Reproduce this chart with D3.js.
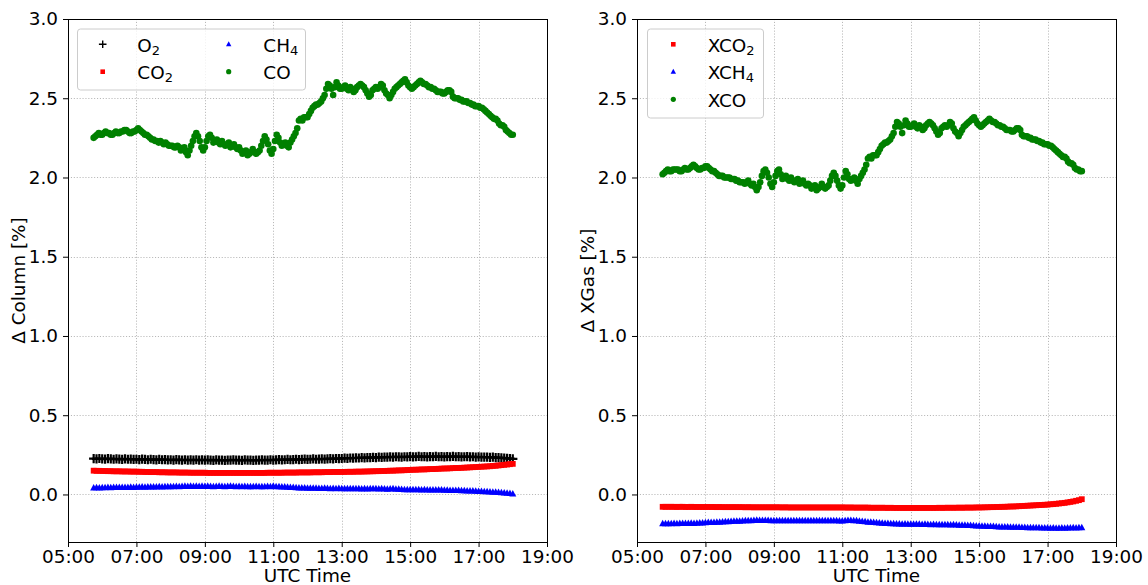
<!DOCTYPE html>
<html>
<head>
<meta charset="utf-8">
<script src="https://cdn.jsdelivr.net/npm/d3@7"></script>
<style>
  body { margin: 0; background: #fff; }
  svg { display: block; }
  text { font-family: "DejaVu Sans", sans-serif; fill: #000; }
</style>
</head>
<body>
<svg id="chart" width="1148" height="585"></svg>
<script>
// Sample times (UTC) for the column/XGas ratios, one row per hour
const times = [
  "05:45","05:50","05:55",
  "06:00","06:05","06:10","06:15","06:20","06:25","06:30","06:35","06:40","06:45","06:50","06:55",
  "07:00","07:05","07:10","07:15","07:20","07:25","07:30","07:35","07:40","07:45","07:50","07:55",
  "08:00","08:05","08:10","08:15","08:20","08:25","08:30","08:35","08:40","08:45","08:50","08:55",
  "09:00","09:05","09:10","09:15","09:20","09:25","09:30","09:35","09:40","09:45","09:50","09:55",
  "10:00","10:05","10:10","10:15","10:20","10:25","10:30","10:35","10:40","10:45","10:50","10:55",
  "11:00","11:05","11:10","11:15","11:20","11:25","11:30","11:35","11:40","11:45","11:50","11:55",
  "12:00","12:05","12:10","12:15","12:20","12:25","12:30","12:35","12:40","12:45","12:50","12:55",
  "13:00","13:05","13:10","13:15","13:20","13:25","13:30","13:35","13:40","13:45","13:50","13:55",
  "14:00","14:05","14:10","14:15","14:20","14:25","14:30","14:35","14:40","14:45","14:50","14:55",
  "15:00","15:05","15:10","15:15","15:20","15:25","15:30","15:35","15:40","15:45","15:50","15:55",
  "16:00","16:05","16:10","16:15","16:20","16:25","16:30","16:35","16:40","16:45","16:50","16:55",
  "17:00","17:05","17:10","17:15","17:20","17:25","17:30","17:35","17:40","17:45","17:50","17:55",
  "18:00"
];

// Sample times (UTC) for CO / XCO, one row per hour
const coTimes = [
  "05:45","05:48","05:51","05:54","05:57",
  "06:00","06:03","06:06","06:09","06:12","06:15","06:18","06:21","06:24","06:27","06:30","06:33","06:36","06:39","06:42","06:45","06:48","06:51","06:54","06:57",
  "07:00","07:03","07:06","07:09","07:12","07:15","07:18","07:21","07:24","07:27","07:30","07:33","07:36","07:39","07:42","07:45","07:48","07:51","07:54","07:57",
  "08:00","08:03","08:06","08:09","08:12","08:15","08:18","08:21","08:24","08:27","08:30","08:33","08:36","08:39","08:42","08:45","08:48","08:51","08:54","08:57",
  "09:00","09:03","09:06","09:09","09:12","09:15","09:18","09:21","09:24","09:27","09:30","09:33","09:36","09:39","09:42","09:45","09:48","09:51","09:54","09:57",
  "10:00","10:03","10:06","10:09","10:12","10:15","10:18","10:21","10:24","10:27","10:30","10:33","10:36","10:39","10:42","10:45","10:48","10:51","10:54","10:57",
  "11:00","11:03","11:06","11:09","11:12","11:15","11:18","11:21","11:24","11:27","11:30","11:33","11:36","11:39","11:42","11:45","11:48","11:51","11:54","11:57",
  "12:00","12:03","12:06","12:09","12:12","12:15","12:18","12:21","12:24","12:27","12:30","12:33","12:36","12:39","12:42","12:45","12:48","12:51","12:54","12:57",
  "13:00","13:03","13:06","13:09","13:12","13:15","13:18","13:21","13:24","13:27","13:30","13:33","13:36","13:39","13:42","13:45","13:48","13:51","13:54","13:57",
  "14:00","14:03","14:06","14:09","14:12","14:15","14:18","14:21","14:24","14:27","14:30","14:33","14:36","14:39","14:42","14:45","14:48","14:51","14:54","14:57",
  "15:00","15:03","15:06","15:09","15:12","15:15","15:18","15:21","15:24","15:27","15:30","15:33","15:36","15:39","15:42","15:45","15:48","15:51","15:54","15:57",
  "16:00","16:03","16:06","16:09","16:12","16:15","16:18","16:21","16:24","16:27","16:30","16:33","16:36","16:39","16:42","16:45","16:48","16:51","16:54","16:57",
  "17:00","17:03","17:06","17:09","17:12","17:15","17:18","17:21","17:24","17:27","17:30","17:33","17:36","17:39","17:42","17:45","17:48","17:51","17:54","17:57",
  "18:00"
];

// Δ column [%]
const o2 = [
  0.226,0.224,0.227,
  0.225,0.223,0.226,0.224,0.222,0.225,0.223,0.221,0.224,0.222,0.223,0.221,
  0.222,0.220,0.223,0.221,0.219,0.222,0.220,0.218,0.221,0.219,0.220,0.218,
  0.219,0.217,0.220,0.218,0.216,0.219,0.217,0.218,0.216,0.219,0.217,0.218,
  0.216,0.218,0.217,0.215,0.218,0.216,0.217,0.215,0.217,0.216,0.218,0.216,
  0.217,0.215,0.218,0.216,0.217,0.215,0.217,0.216,0.218,0.216,0.217,0.219,
  0.217,0.218,0.220,0.218,0.219,0.221,0.219,0.220,0.222,0.220,0.221,0.223,
  0.221,0.222,0.224,0.222,0.223,0.225,0.223,0.224,0.226,0.225,0.227,0.226,
  0.227,0.229,0.228,0.230,0.229,0.231,0.230,0.232,0.231,0.233,0.232,0.234,
  0.233,0.235,0.234,0.236,0.235,0.237,0.236,0.238,0.237,0.236,0.238,0.237,
  0.239,0.237,0.238,0.240,0.238,0.239,0.237,0.239,0.238,0.240,0.238,0.239,
  0.237,0.239,0.238,0.240,0.238,0.239,0.237,0.238,0.239,0.237,0.238,0.236,
  0.237,0.236,0.235,0.236,0.234,0.235,0.233,0.232,0.231,0.229,0.228,0.226,
  0.225
];
const co2 = [
  0.150,0.149,0.149,
  0.148,0.148,0.147,0.147,0.146,0.146,0.146,0.145,0.145,0.145,0.144,0.144,
  0.144,0.143,0.143,0.142,0.142,0.141,0.141,0.141,0.140,0.140,0.140,0.139,
  0.139,0.139,0.139,0.138,0.138,0.138,0.138,0.137,0.137,0.137,0.137,0.137,
  0.137,0.136,0.136,0.136,0.136,0.136,0.136,0.136,0.136,0.136,0.136,0.136,
  0.136,0.136,0.136,0.136,0.136,0.136,0.136,0.136,0.136,0.136,0.137,0.137,
  0.137,0.137,0.137,0.137,0.138,0.138,0.138,0.138,0.138,0.139,0.139,0.139,
  0.139,0.139,0.140,0.140,0.140,0.140,0.141,0.141,0.141,0.142,0.142,0.142,
  0.142,0.142,0.143,0.143,0.143,0.144,0.144,0.144,0.145,0.145,0.146,0.146,
  0.147,0.147,0.148,0.148,0.149,0.150,0.150,0.151,0.152,0.152,0.153,0.154,
  0.155,0.156,0.156,0.157,0.158,0.158,0.159,0.160,0.160,0.161,0.162,0.163,
  0.164,0.164,0.165,0.166,0.167,0.167,0.168,0.169,0.170,0.171,0.172,0.173,
  0.174,0.175,0.176,0.177,0.178,0.180,0.181,0.183,0.185,0.187,0.189,0.191,
  0.193
];
const ch4 = [
  0.042,0.043,0.042,
  0.043,0.043,0.044,0.043,0.044,0.044,0.045,0.044,0.045,0.045,0.046,0.045,
  0.046,0.046,0.047,0.046,0.047,0.048,0.047,0.048,0.049,0.048,0.049,0.050,
  0.049,0.050,0.051,0.050,0.051,0.052,0.051,0.052,0.051,0.052,0.051,0.052,
  0.051,0.052,0.051,0.050,0.051,0.052,0.051,0.050,0.051,0.052,0.051,0.050,
  0.051,0.050,0.051,0.050,0.049,0.050,0.051,0.050,0.049,0.050,0.051,0.050,
  0.052,0.050,0.049,0.048,0.047,0.046,0.045,0.044,0.043,0.042,0.041,0.041,
  0.040,0.040,0.039,0.039,0.038,0.038,0.039,0.038,0.037,0.038,0.037,0.038,
  0.037,0.037,0.036,0.037,0.036,0.037,0.036,0.035,0.036,0.035,0.036,0.037,
  0.036,0.035,0.036,0.035,0.034,0.035,0.036,0.034,0.033,0.032,0.031,0.031,
  0.030,0.031,0.030,0.030,0.029,0.030,0.029,0.029,0.028,0.029,0.028,0.028,
  0.027,0.027,0.026,0.026,0.025,0.025,0.024,0.024,0.023,0.022,0.022,0.021,
  0.020,0.019,0.018,0.017,0.016,0.015,0.014,0.013,0.011,0.010,0.008,0.006,
  0.004
];
const co = [
  2.25,2.26,2.27,2.28,2.27,
  2.27,2.28,2.29,2.28,2.28,2.27,2.27,2.28,2.29,2.28,2.28,2.29,2.29,2.30,2.30,2.29,2.28,2.28,2.29,2.29,
  2.30,2.31,2.30,2.29,2.28,2.27,2.27,2.26,2.25,2.24,2.24,2.23,2.23,2.22,2.23,2.22,2.21,2.22,2.21,2.20,
  2.20,2.20,2.19,2.19,2.20,2.19,2.17,2.18,2.19,2.16,2.14,2.17,2.20,2.23,2.26,2.28,2.26,2.23,2.19,2.17,
  2.19,2.23,2.26,2.27,2.25,2.22,2.23,2.24,2.22,2.21,2.23,2.21,2.20,2.21,2.22,2.19,2.20,2.21,2.19,2.18,
  2.19,2.17,2.15,2.16,2.17,2.14,2.15,2.16,2.18,2.16,2.15,2.16,2.17,2.20,2.23,2.26,2.24,2.21,2.17,2.15,
  2.18,2.23,2.27,2.25,2.22,2.20,2.21,2.22,2.20,2.19,2.22,2.24,2.26,2.28,2.31,2.36,2.37,2.36,2.38,2.38,
  2.38,2.40,2.42,2.44,2.45,2.46,2.46,2.47,2.48,2.50,2.52,2.56,2.59,2.58,2.56,2.52,2.57,2.60,2.58,2.56,
  2.56,2.57,2.58,2.56,2.55,2.57,2.56,2.54,2.55,2.57,2.58,2.59,2.58,2.57,2.55,2.53,2.51,2.52,2.55,2.56,
  2.57,2.56,2.57,2.59,2.58,2.55,2.53,2.52,2.50,2.52,2.54,2.56,2.57,2.58,2.59,2.60,2.61,2.62,2.60,2.58,
  2.57,2.56,2.57,2.58,2.59,2.60,2.61,2.60,2.59,2.59,2.58,2.57,2.57,2.56,2.56,2.55,2.54,2.54,2.54,2.53,
  2.53,2.54,2.55,2.55,2.54,2.51,2.50,2.50,2.50,2.49,2.49,2.48,2.48,2.48,2.47,2.47,2.46,2.46,2.45,2.45,
  2.45,2.44,2.44,2.43,2.42,2.41,2.40,2.39,2.38,2.37,2.37,2.36,2.34,2.33,2.33,2.32,2.30,2.29,2.28,2.27,
  2.27
];

// Δ XGas [%]
const xco2 = [
  -0.078,-0.078,-0.078,
  -0.078,-0.078,-0.079,-0.078,-0.078,-0.079,-0.079,-0.078,-0.079,-0.079,-0.079,-0.079,
  -0.079,-0.079,-0.079,-0.079,-0.080,-0.079,-0.080,-0.080,-0.080,-0.080,-0.080,-0.080,
  -0.080,-0.080,-0.081,-0.080,-0.081,-0.081,-0.081,-0.081,-0.081,-0.081,-0.081,-0.081,
  -0.081,-0.081,-0.081,-0.082,-0.081,-0.082,-0.082,-0.082,-0.082,-0.082,-0.082,-0.082,
  -0.082,-0.082,-0.082,-0.082,-0.082,-0.082,-0.082,-0.082,-0.082,-0.082,-0.082,-0.082,
  -0.082,-0.082,-0.083,-0.082,-0.083,-0.083,-0.083,-0.083,-0.083,-0.083,-0.084,-0.084,
  -0.084,-0.084,-0.084,-0.084,-0.085,-0.084,-0.085,-0.085,-0.085,-0.085,-0.085,-0.085,
  -0.085,-0.085,-0.085,-0.085,-0.085,-0.085,-0.085,-0.085,-0.085,-0.085,-0.084,-0.085,
  -0.084,-0.084,-0.084,-0.084,-0.084,-0.083,-0.084,-0.083,-0.083,-0.083,-0.083,-0.082,
  -0.082,-0.082,-0.081,-0.081,-0.080,-0.080,-0.079,-0.079,-0.078,-0.078,-0.077,-0.076,
  -0.076,-0.075,-0.074,-0.073,-0.072,-0.071,-0.070,-0.069,-0.068,-0.067,-0.066,-0.065,
  -0.064,-0.062,-0.061,-0.059,-0.057,-0.055,-0.053,-0.050,-0.047,-0.044,-0.040,-0.036,
  -0.030
];
const xch4 = [
  -0.185,-0.184,-0.185,
  -0.184,-0.183,-0.184,-0.183,-0.182,-0.183,-0.182,-0.181,-0.182,-0.181,-0.180,-0.180,
  -0.178,-0.177,-0.176,-0.176,-0.175,-0.174,-0.173,-0.172,-0.171,-0.170,-0.169,-0.168,
  -0.168,-0.167,-0.166,-0.166,-0.165,-0.164,-0.162,-0.163,-0.164,-0.163,-0.164,-0.165,
  -0.165,-0.166,-0.165,-0.166,-0.165,-0.166,-0.166,-0.165,-0.166,-0.166,-0.165,-0.166,
  -0.166,-0.165,-0.166,-0.166,-0.165,-0.166,-0.165,-0.166,-0.166,-0.165,-0.166,-0.167,
  -0.167,-0.165,-0.163,-0.164,-0.165,-0.166,-0.168,-0.170,-0.172,-0.174,-0.175,-0.177,
  -0.178,-0.179,-0.181,-0.182,-0.183,-0.184,-0.185,-0.186,-0.186,-0.187,-0.186,-0.187,
  -0.187,-0.188,-0.187,-0.188,-0.189,-0.188,-0.189,-0.190,-0.189,-0.190,-0.190,-0.191,
  -0.190,-0.191,-0.192,-0.191,-0.192,-0.193,-0.193,-0.194,-0.195,-0.196,-0.197,-0.198,
  -0.199,-0.200,-0.200,-0.201,-0.202,-0.202,-0.203,-0.204,-0.204,-0.205,-0.205,-0.206,
  -0.206,-0.207,-0.207,-0.208,-0.208,-0.209,-0.209,-0.210,-0.210,-0.210,-0.211,-0.211,
  -0.211,-0.212,-0.211,-0.212,-0.212,-0.211,-0.212,-0.211,-0.211,-0.210,-0.211,-0.210,
  -0.210
];
const xco = [
  2.02,2.03,2.04,2.05,2.04,
  2.04,2.05,2.05,2.05,2.05,2.04,2.04,2.05,2.06,2.05,2.05,2.06,2.07,2.08,2.07,2.06,2.05,2.05,2.06,2.06,
  2.07,2.07,2.06,2.05,2.04,2.04,2.03,2.02,2.01,2.01,2.01,2.00,2.00,2.00,2.00,1.99,1.99,1.99,1.98,1.98,
  1.97,1.97,1.97,1.96,1.97,1.98,1.96,1.95,1.96,1.94,1.92,1.94,1.97,2.01,2.04,2.05,2.03,2.00,1.96,1.94,
  1.97,2.01,2.04,2.05,2.02,1.99,2.00,2.01,1.99,1.98,2.00,1.98,1.97,1.98,1.99,1.96,1.97,1.98,1.96,1.95,
  1.96,1.95,1.93,1.94,1.95,1.92,1.93,1.94,1.96,1.94,1.93,1.94,1.95,1.98,2.01,2.03,2.01,1.98,1.95,1.93,
  1.95,2.00,2.04,2.02,1.99,1.98,1.99,2.00,1.98,1.96,1.99,2.01,2.03,2.05,2.08,2.12,2.13,2.12,2.14,2.14,
  2.14,2.16,2.18,2.20,2.21,2.22,2.22,2.23,2.24,2.26,2.28,2.32,2.35,2.34,2.32,2.28,2.33,2.36,2.34,2.32,
  2.32,2.33,2.34,2.32,2.31,2.33,2.32,2.30,2.31,2.33,2.34,2.35,2.34,2.33,2.31,2.29,2.27,2.28,2.31,2.32,
  2.33,2.32,2.33,2.35,2.34,2.31,2.29,2.28,2.26,2.28,2.30,2.32,2.33,2.34,2.35,2.36,2.37,2.38,2.36,2.34,
  2.33,2.32,2.33,2.34,2.35,2.36,2.37,2.36,2.35,2.35,2.34,2.33,2.33,2.32,2.32,2.31,2.30,2.30,2.30,2.29,
  2.29,2.30,2.31,2.31,2.30,2.27,2.26,2.26,2.26,2.25,2.25,2.24,2.24,2.24,2.23,2.23,2.22,2.22,2.21,2.21,
  2.21,2.20,2.20,2.19,2.18,2.17,2.16,2.15,2.14,2.13,2.13,2.12,2.10,2.09,2.09,2.08,2.06,2.05,2.05,2.04,
  2.04
];

// Axis ticks
const xTicks = ["05:00","07:00","09:00","11:00","13:00","15:00","17:00","19:00"];
const yTicks = [0.0, 0.5, 1.0, 1.5, 2.0, 2.5, 3.0];
const xDomain = ["05:00", "19:00"];
const yDomain = [-0.3, 3.0];

const FONT = 18.4;
const SUB = 13;
const parse = d3.utcParse("%H:%M");
const svg = d3.select("#chart");

const panels = [
  {
    left: 68, right: 547, top: 19, bottom: 542,
    ylabel: "Δ Column [%]", ylabelX: 25,
    series: [
      { main: "O",  sub: "2", t: times,   values: o2,  shape: "plus",     color: "#000000" },
      { main: "CO", sub: "2", t: times,   values: co2, shape: "square",   color: "#ff0000" },
      { main: "CH", sub: "4", t: times,   values: ch4, shape: "triangle", color: "#0000ff" },
      { main: "CO", sub: "",  t: coTimes, values: co,  shape: "circle",   color: "#008000" }
    ],
    legend: { x: 77.5, y: 29, w: 228, h: 61, colX: [102.7, 228.7], rowY: [44.3, 71.7], textDx: 34.6, rows: 2 }
  },
  {
    left: 637, right: 1116, top: 19, bottom: 542,
    ylabel: "Δ XGas [%]", ylabelX: 594,
    series: [
      { main: "XCO", sub: "2", t: times,   values: xco2, shape: "square",   color: "#ff0000" },
      { main: "XCH", sub: "4", t: times,   values: xch4, shape: "triangle", color: "#0000ff" },
      { main: "XCO", sub: "",  t: coTimes, values: xco,  shape: "circle",   color: "#008000" }
    ],
    legend: { x: 647.5, y: 29, w: 116, h: 89, colX: [673.3], rowY: [44.3, 71.7, 99.3], textDx: 34.4, rows: 3 }
  }
];

function drawMarker(g, shape, color, x, y, legend) {
  if (shape === "plus") {
    const a = legend ? 3.8 : 4.6;
    g.append("path")
      .attr("d", `M${x - a},${y}H${x + a}M${x},${y - a}V${y + a}`)
      .attr("stroke", color).attr("stroke-width", legend ? 1.4 : 2.2).attr("fill", "none");
  } else if (shape === "square") {
    const h = legend ? 2.3 : 2.9;
    g.append("rect")
      .attr("x", x - h).attr("y", y - h).attr("width", 2 * h).attr("height", 2 * h)
      .attr("fill", color);
  } else if (shape === "triangle") {
    const s = legend ? 1 : 1.3;
    g.append("path")
      .attr("d", `M${x},${y - 3 * s}L${x + 2.7 * s},${y + 2 * s}L${x - 2.7 * s},${y + 2 * s}Z`)
      .attr("fill", color);
  } else {
    g.append("circle").attr("cx", x).attr("cy", y).attr("r", legend ? 2.6 : 3.3).attr("fill", color);
  }
}

function labelText(g, x, y, s) {
  const t = g.append("text").attr("x", x).attr("y", y).attr("font-size", FONT);
  t.append("tspan").text(s.main);
  if (s.sub) t.append("tspan").attr("font-size", SUB).attr("dy", 3).text(s.sub);
}

panels.forEach(p => {
  const x = d3.scaleUtc().domain(xDomain.map(parse)).range([p.left, p.right]);
  const y = d3.scaleLinear().domain(yDomain).range([p.bottom, p.top]);
  const g = svg.append("g");

  // grid
  const grid = g.append("g").attr("stroke", "#b0b0b0").attr("stroke-width", 0.9)
    .attr("stroke-dasharray", "1.1,1.8").attr("fill", "none");
  xTicks.forEach(t => {
    const xx = Math.round(x(parse(t))) + 0.5;
    grid.append("line").attr("x1", xx).attr("x2", xx).attr("y1", p.top).attr("y2", p.bottom);
  });
  yTicks.forEach(v => {
    const yy = Math.round(y(v)) + 0.5;
    grid.append("line").attr("x1", p.left).attr("x2", p.right).attr("y1", yy).attr("y2", yy);
  });

  // data
  p.series.forEach(s => {
    const sg = g.append("g");
    const n = Math.min(s.t.length, s.values.length);
    for (let i = 0; i < n; i++) {
      drawMarker(sg, s.shape, s.color, x(parse(s.t[i])), y(s.values[i]), false);
    }
  });

  // axes
  const xAxis = d3.axisBottom(x)
    .tickValues(xTicks.map(parse))
    .tickFormat(d3.utcFormat("%H:%M"))
    .tickSize(5).tickPadding(3);
  const gx = g.append("g").attr("transform", `translate(0,${p.bottom})`).call(xAxis);
  const yAxis = d3.axisLeft(y).tickValues(yTicks).tickFormat(d3.format(".1f"))
    .tickSize(5).tickPadding(5);
  const gy = g.append("g").attr("transform", `translate(${p.left},0)`).call(yAxis);
  [gx, gy].forEach(a => {
    a.selectAll(".domain").remove();
    a.selectAll(".tick line").attr("stroke", "#000").attr("stroke-width", 1);
    a.selectAll(".tick text").attr("font-size", FONT).attr("font-family", "DejaVu Sans").attr("fill", "#000");
  });

  // frame
  g.append("rect")
    .attr("x", p.left + 0.5).attr("y", p.top + 0.5)
    .attr("width", p.right - p.left).attr("height", p.bottom - p.top)
    .attr("fill", "none").attr("stroke", "#000").attr("stroke-width", 1);

  // axis titles
  g.append("text")
    .attr("x", (p.left + p.right) / 2).attr("y", 582)
    .attr("text-anchor", "middle").attr("font-size", FONT)
    .text("UTC Time");
  g.append("text")
    .attr("transform", `translate(${p.ylabelX},${(p.top + p.bottom) / 2}) rotate(-90)`)
    .attr("text-anchor", "middle").attr("font-size", FONT)
    .text(p.ylabel);

  // legend
  const L = p.legend;
  const lg = g.append("g");
  lg.append("rect")
    .attr("x", L.x).attr("y", L.y).attr("width", L.w).attr("height", L.h)
    .attr("rx", 3).attr("fill", "#fff").attr("fill-opacity", 0.8)
    .attr("stroke", "#cccccc").attr("stroke-width", 1);
  p.series.forEach((s, i) => {
    const col = Math.floor(i / L.rows), row = i % L.rows;
    const mx = L.colX[col], my = L.rowY[row];
    drawMarker(lg, s.shape, s.color, mx, my, true);
    labelText(lg, mx + L.textDx, my + 7.3, s);
  });
});
</script>
</body>
</html>
